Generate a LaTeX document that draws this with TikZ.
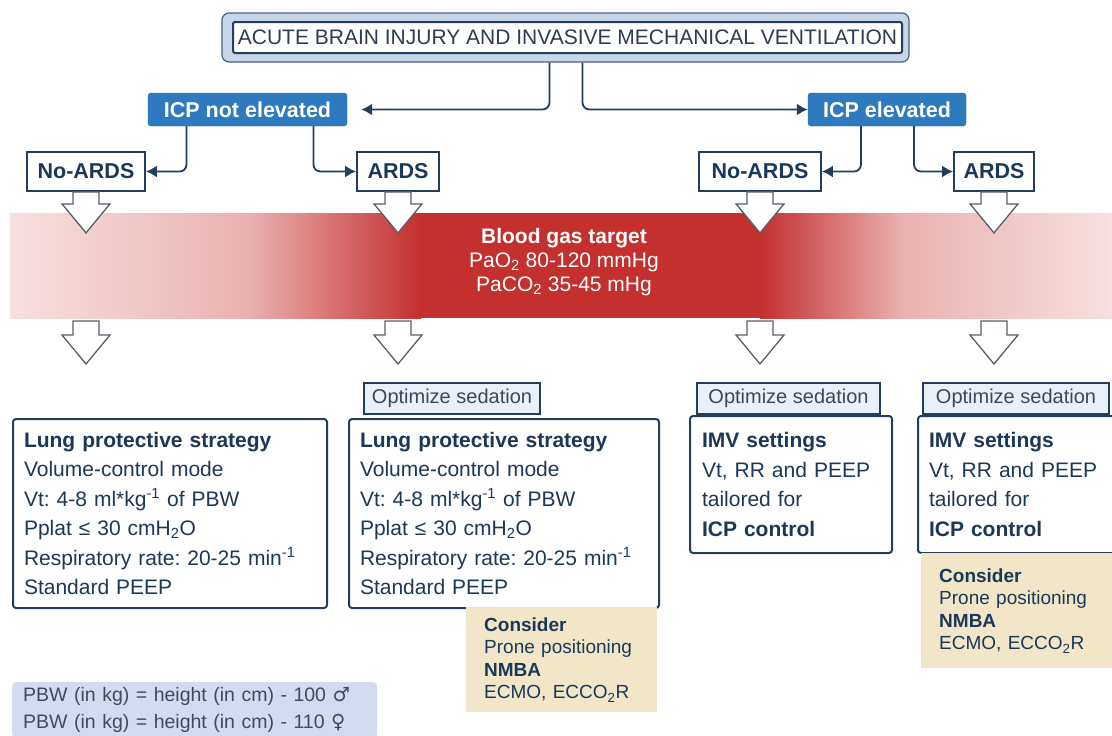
\documentclass[tikz,border=0pt]{standalone}
\usepackage{fontspec}
\setmainfont{Liberation Sans}
\newfontfamily\symfont{DejaVu Sans}
\frenchspacing
\usetikzlibrary{arrows.meta,calc}
\definecolor{inkblue}{RGB}{28,56,88}
\definecolor{lineblue}{RGB}{35,62,92}
\definecolor{icpblue}{RGB}{46,122,190}
\definecolor{titlefill}{RGB}{200,214,236}
\definecolor{titleline}{RGB}{70,98,130}
\definecolor{titletext}{RGB}{45,60,80}
\definecolor{tabfill}{RGB}{234,240,250}
\definecolor{tabtext}{RGB}{60,72,90}
\definecolor{beige}{RGB}{241,230,200}
\definecolor{pbwfill}{RGB}{213,219,238}
\definecolor{pbwtext}{RGB}{62,74,95}
\definecolor{arrowgray}{RGB}{85,95,105}
\definecolor{bandred}{RGB}{195,48,46}
\definecolor{bandpink}{RGB}{234,176,176}
\definecolor{bandpale}{RGB}{247,224,224}
\begin{document}
\begin{tikzpicture}[x=1pt,y=-1pt,
  every node/.style={text=inkblue},
  conn/.style={draw=lineblue,line width=1.8pt,rounded corners=7pt,-{Latex[length=11pt,width=12pt]}},
  hollow/.style={draw=arrowgray,fill=white,line width=1.3pt},
  ardsbox/.style={draw=lineblue,line width=1.8pt,fill=white,inner sep=0pt,minimum height=39pt,font=\bfseries\fontsize{21.5}{26}\selectfont},
  icpbox/.style={fill=icpblue,draw=icpblue!80!black,rounded corners=3pt,text=white,inner sep=0pt,minimum height=33pt,font=\bfseries\fontsize{21.5}{26}\selectfont},
  mainbox/.style={draw=lineblue,line width=2pt,fill=white,rounded corners=3pt,anchor=north west,align=left,inner xsep=11pt,inner ysep=4pt,font=\fontsize{21}{29.5}\selectfont},
  tabbox/.style={draw=lineblue,line width=1.4pt,fill=tabfill,text=tabtext,inner sep=0pt,minimum height=31pt,font=\fontsize{20}{24}\selectfont},
  considerbox/.style={fill=beige,anchor=north west,align=left,inner xsep=18pt,font=\fontsize{19}{22.5}\selectfont}]
\clip (0,0) rectangle (1112,736);

\shade[left color=bandpale,right color=bandpink] (10,213) rectangle (251,318);
\shade[left color=bandpink,right color=bandred] (250,213) rectangle (421,318);
\fill[bandred] (420,213) rectangle (761,318);
\shade[left color=bandred,right color=bandpink] (760,213) rectangle (901,318);
\shade[left color=bandpink,right color=bandpale] (900,213) rectangle (1112,318);
\node[text=white,align=center,font=\fontsize{21}{24}\selectfont] (gas) at (564,262)
  {\textbf{Blood gas target}\\PaO\textsubscript{2} 80-120 mmHg\\PaCO\textsubscript{2} 35-45 mHg};
\coordinate (bandbot) at (0,321);

\node[draw=titleline,line width=1.2pt,fill=titlefill,rounded corners=7pt,minimum width=687pt,minimum height=49pt] (frame) at (565.5,37.5) {};
\node[draw=lineblue,line width=2pt,fill=white,rounded corners=2pt,minimum width=669pt,minimum height=31pt,inner sep=0pt,text=titletext,font=\fontsize{21}{24}\selectfont] (title) at (567.5,37.5) {ACUTE BRAIN INJURY AND INVASIVE MECHANICAL VENTILATION};

\node[icpbox,minimum width=199pt] (icpn) at (247.5,109.5) {ICP not elevated};
\node[icpbox,minimum width=158pt] (icpe) at (887,109.5) {ICP elevated};

\node[ardsbox,minimum width=118pt] (nardsL) at (86,171.5) {No-ARDS};
\node[ardsbox,minimum width=82pt] (ardsL) at (398,171.5) {ARDS};
\node[ardsbox,minimum width=122pt] (nardsR) at (760,171.5) {No-ARDS};
\node[ardsbox,minimum width=80pt] (ardsR) at (994,171.5) {ARDS};

\draw[conn,shorten >=14pt] ([xshift=-16pt]frame.south) |- (icpn.east);
\draw[conn] ([xshift=17pt]frame.south) |- (icpe.west);
\draw[conn] ([xshift=-61pt]icpn.south) |- (nardsL.east);
\draw[conn] ([xshift=66pt]icpn.south) |- (ardsL.west);
\draw[conn] ([xshift=-26pt]icpe.south) |- (nardsR.east);
\draw[conn] ([xshift=27pt]icpe.south) |- (ardsR.west);

\foreach \n in {nardsL,ardsL,nardsR,ardsR}{
  \draw[hollow] ($(\n.south)+(-13,0)$) -- ++(0,12) -- ++(-11,0) -- ++(24,29) -- ++(24,-29) -- ++(-11,0) -- ++(0,-12) -- cycle;
  \draw[hollow] ($(\n.south |- bandbot)+(-13,0)$) -- ++(0,14) -- ++(-11,0) -- ++(24,29) -- ++(24,-29) -- ++(-11,0) -- ++(0,-14) -- cycle;
}

\node[tabbox,minimum width=176pt] (tab2) at (452,398.5) {Optimize sedation};
\node[tabbox,minimum width=183pt] (tab3) at (788.5,398.5) {Optimize sedation};
\node[tabbox,minimum width=186pt] (tab4) at (1016,398.5) {Optimize sedation};

\node[mainbox,text width=292pt,minimum height=189pt] (lps1) at (12,418)
  {\textbf{Lung protective strategy}\\Volume-control mode\\Vt: 4-8 ml*kg\textsuperscript{-1} of PBW\\Pplat ≤ 30 cmH\textsubscript{2}O\\Respiratory rate: 20-25 min\textsuperscript{-1}\\Standard PEEP};
\node[mainbox,text width=288pt,minimum height=189pt] (lps2) at (348,418)
  {\textbf{Lung protective strategy}\\Volume-control mode\\Vt: 4-8 ml*kg\textsuperscript{-1} of PBW\\Pplat ≤ 30 cmH\textsubscript{2}O\\Respiratory rate: 20-25 min\textsuperscript{-1}\\Standard PEEP};
\node[mainbox,inner xsep=12pt,text width=178pt,minimum height=137pt] (imv3) at (689,415)
  {\textbf{IMV settings}\\Vt, RR and PEEP\\tailored for\\\textbf{ICP control}};
\node[mainbox,text width=179pt,minimum height=137pt] (imv4) at (917,415)
  {\textbf{IMV settings}\\Vt, RR and PEEP\\tailored for\\\textbf{ICP control}};

\node[considerbox,text width=155pt,minimum height=105pt] (cons2) at (466,607)
  {\textbf{Consider}\\Prone positioning\\\textbf{NMBA}\\ECMO, ECCO\textsubscript{2}R};
\node[considerbox,text width=161pt,minimum height=115pt] (cons4) at (921,553)
  {\textbf{Consider}\\Prone positioning\\\textbf{NMBA}\\ECMO, ECCO\textsubscript{2}R};

\node[fill=pbwfill,rounded corners=4pt,anchor=north west,align=left,inner xsep=11pt,text width=343pt,minimum height=56pt,text=pbwtext,font=\fontsize{19.5}{27}\selectfont] (pbw) at (12,682)
  {PBW (in kg) = height (in cm) - 100 {\symfont ♂}\\PBW (in kg) = height (in cm) - 110 {\symfont ♀}};
\end{tikzpicture}
\end{document}
